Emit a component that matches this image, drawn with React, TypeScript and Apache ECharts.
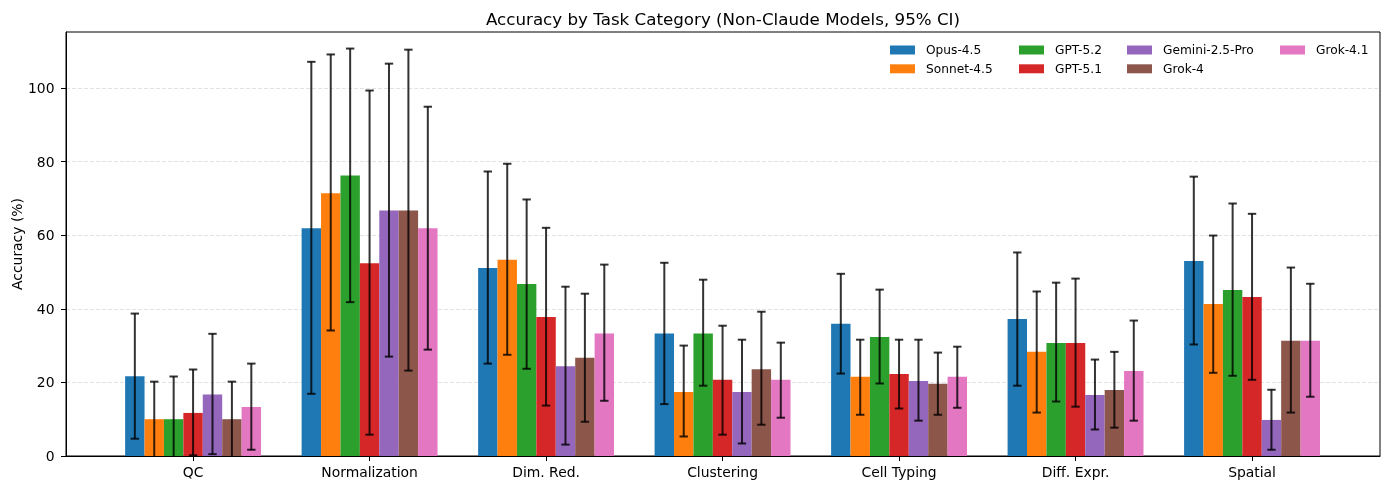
import React, { useEffect, useRef } from "react";
import * as echarts from "echarts";

const categories = ["QC", "Normalization", "Dim. Red.", "Clustering", "Cell Typing", "Diff. Expr.", "Spatial"];
const models = ["Opus-4.5", "Sonnet-4.5", "GPT-5.2", "GPT-5.1", "Gemini-2.5-Pro", "Grok-4", "Grok-4.1"];
const colors = ["#1f77b4", "#ff7f0e", "#2ca02c", "#d62728", "#9467bd", "#8c564b", "#e377c2"];

const opus = [21.7, 61.9, 51.1, 33.3, 35.9, 37.2, 53.0];
const sonnet = [10.0, 71.4, 53.3, 17.4, 21.5, 28.3, 41.3];
const gpt52 = [10.0, 76.2, 46.7, 33.3, 32.3, 30.7, 45.1];
const gpt51 = [11.7, 52.4, 37.8, 20.7, 22.3, 30.7, 43.2];
const gemini = [16.7, 66.7, 24.4, 17.4, 20.4, 16.6, 9.8];
const grok4 = [10.0, 66.7, 26.7, 23.6, 19.6, 17.9, 31.3];
const grok41 = [13.3, 61.9, 33.3, 20.7, 21.5, 23.1, 31.3];

const opusLo = [4.7, 16.9, 25.1, 14.1, 22.4, 19.1, 30.3];
const sonnetLo = [-1, 34.1, 27.5, 5.3, 11.2, 11.8, 22.6];
const gpt52Lo = [-1, 41.8, 23.7, 19.1, 19.7, 14.8, 21.8];
const gpt51Lo = [0.2, 5.8, 13.7, 5.8, 12.9, 13.4, 20.7];
const geminiLo = [0.5, 27.0, 3.1, 3.4, 9.6, 7.2, 1.7];
const grok4Lo = [-1, 23.2, 9.3, 8.5, 11.2, 7.7, 11.8];
const grok41Lo = [1.7, 28.9, 15.0, 10.4, 13.1, 9.6, 16.1];

const opusHi = [38.7, 107.1, 77.3, 52.5, 49.5, 55.3, 75.9];
const sonnetHi = [20.2, 109.1, 79.4, 30.0, 31.6, 44.7, 59.9];
const gpt52Hi = [21.6, 110.7, 69.7, 47.9, 45.2, 47.1, 68.6];
const gpt51Hi = [23.5, 99.3, 62.0, 35.4, 31.6, 48.2, 65.8];
const geminiHi = [33.2, 106.6, 46.0, 31.6, 31.6, 26.2, 18.0];
const grok4Hi = [20.2, 110.4, 44.1, 39.2, 28.1, 28.3, 51.2];
const grok41Hi = [25.1, 94.9, 52.0, 30.8, 29.7, 36.8, 46.8];

const yTicks = [0, 20, 40, 60, 80, 100];

const values = [opus, sonnet, gpt52, gpt51, gemini, grok4, grok41];
const lows = [opusLo, sonnetLo, gpt52Lo, gpt51Lo, geminiLo, grok4Lo, grok41Lo];
const highs = [opusHi, sonnetHi, gpt52Hi, gpt51Hi, geminiHi, grok4Hi, grok41Hi];

const BW = 0.11;
const FONT = "DejaVu Sans";

export default function App() {
  const ref = useRef<HTMLDivElement>(null);
  useEffect(() => {
    if (!ref.current) return;
    const chart = echarts.init(ref.current, null, { renderer: "svg" });

    const barSeries = models.map((name, s) => ({
      type: "custom",
      name,
      itemStyle: { color: colors[s] },
      encode: { x: 0, y: 1 },
      data: categories.map((_, i) => [i, values[s][i]]),
      z: 2,
      renderItem: (params: any, api: any) => {
        const x = api.value(0) + (s - 3) * BW;
        const tl = api.coord([x - BW / 2, api.value(1)]);
        const br = api.coord([x + BW / 2, 0]);
        return {
          type: "rect",
          shape: { x: tl[0], y: tl[1], width: br[0] - tl[0], height: br[1] - tl[1] },
          style: { fill: colors[s] },
        };
      },
    }));

    const errSeries = models.map((name, s) => ({
      type: "custom",
      name: "err-" + name,
      clip: true,
      encode: { x: 0, y: 1 },
      data: categories.map((_, i) => [i, lows[s][i], highs[s][i]]),
      z: 5,
      renderItem: (params: any, api: any) => {
        const x = api.value(0) + (s - 3) * BW;
        const lo = api.coord([x, api.value(1)]);
        const hi = api.coord([x, api.value(2)]);
        const stroke = "rgba(0,0,0,0.8)";
        const cw = 4.2;
        return {
          type: "group",
          children: [
            { type: "line", shape: { x1: lo[0], y1: lo[1], x2: hi[0], y2: hi[1] }, style: { stroke, lineWidth: 2 } },
            { type: "line", shape: { x1: lo[0] - cw, y1: lo[1], x2: lo[0] + cw, y2: lo[1] }, style: { stroke, lineWidth: 2 } },
            { type: "line", shape: { x1: hi[0] - cw, y1: hi[1], x2: hi[0] + cw, y2: hi[1] }, style: { stroke, lineWidth: 2 } },
          ],
        };
      },
    }));

    const legendCols = [
      { left: 890, data: ["Opus-4.5", "Sonnet-4.5"] },
      { left: 1019, data: ["GPT-5.2", "GPT-5.1"] },
      { left: 1127, data: ["Gemini-2.5-Pro", "Grok-4"] },
      { left: 1280, data: ["Grok-4.1"] },
    ];

    chart.setOption({
      animation: false,
      textStyle: { fontFamily: FONT },
      graphic: [
        {
          type: "text",
          x: 723,
          y: 18.5,
          style: {
            text: "Accuracy by Task Category (Non-Claude Models, 95% CI)",
            textAlign: "center",
            textVerticalAlign: "middle",
            fontFamily: FONT,
            fontSize: 16.7,
            fill: "#000",
          },
        },
      ],
      legend: legendCols.map((c) => ({
        orient: "vertical",
        left: c.left,
        top: 43,
        padding: 0,
        itemGap: 4.8,
        itemWidth: 25,
        itemHeight: 9,
        icon: "rect",
        selectedMode: false,
        data: c.data,
        textStyle: { fontFamily: FONT, fontSize: 12.2, color: "#000", lineHeight: 14, padding: [0, 0, 0, 6] },
      })),
      grid: {
        left: 66,
        right: 9,
        top: 32,
        bottom: 34,
        show: true,
        borderColor: "#000",
        borderWidth: 1,
        backgroundColor: "transparent",
        containLabel: false,
        outerBoundsMode: "none",
      },
      xAxis: {
        type: "value",
        min: -0.72,
        max: 6.725,
        axisLine: { show: true, onZero: false, lineStyle: { color: "#000", width: 1 } },
        axisTick: { show: true, length: 5, lineStyle: { color: "#000" }, customValues: categories.map((_, i) => i) },
        axisLabel: {
          customValues: categories.map((_, i) => i),
          formatter: (v: number) => categories[Math.round(v)],
          color: "#000",
          fontFamily: FONT,
          fontSize: 13.9,
          margin: 9,
        },
        splitLine: { show: false },
      },
      yAxis: {
        type: "value",
        min: 0,
        max: 115.2,
        name: "Accuracy (%)",
        nameLocation: "middle",
        nameGap: 42,
        nameMoveOverlap: false,
        nameTextStyle: { fontFamily: FONT, fontSize: 13.9, color: "#000" },
        axisLine: { show: true, onZero: false, lineStyle: { color: "#000", width: 1 } },
        axisTick: { show: true, length: 5, lineStyle: { color: "#000" }, customValues: yTicks },
        axisLabel: { customValues: yTicks, color: "#000", fontFamily: FONT, fontSize: 13.9, margin: 11.5 },
        splitLine: { show: true, lineStyle: { color: "#e3e3e3", type: [4, 2], width: 1 } },
      },
      series: [...barSeries, ...errSeries],
    });
    return () => chart.dispose();
  }, []);
  return <div ref={ref} style={{ position: "fixed", left: 0, top: 0, width: 1389, height: 490 }} />;
}
